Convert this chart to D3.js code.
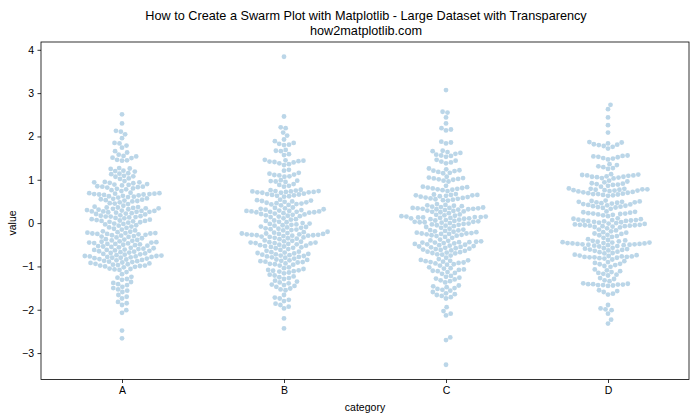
<!DOCTYPE html>
<html>
<head>
<meta charset="utf-8">
<script src="https://cdn.jsdelivr.net/npm/d3@7"></script>
<style>
  html, body { margin: 0; padding: 0; background: #fff; }
  svg { display: block; font-family: "Liberation Sans", Arial, sans-serif; }
</style>
</head>
<body>
<svg id="chart" width="700" height="420"></svg>
<script>
const categories = ["A", "B", "C", "D"];
const yTicks = [-3, -2, -1, 0, 1, 2, 3, 4];

const valuesA = [2.51,2.30,2.13,2.11,2.05,1.96,1.85,1.84,1.79,1.74,1.66,1.63,1.58,1.55,1.54,1.51,1.50,1.46,1.45,1.44,
1.27,1.26,1.25,1.21,1.20,1.19,1.15,1.14,1.13,1.09,1.08,1.07,1.03,1.02,
0.97,0.95,0.94,0.94,0.93,0.92,0.90,0.89,0.88,0.87,0.85,0.84,0.84,0.83,0.82,0.80,0.79,0.78,0.76,0.74,
0.70,0.69,0.69,0.68,0.68,0.67,0.67,0.66,0.66,0.65,0.64,0.63,0.62,0.61,0.60,0.59,0.57,0.56,0.55,0.54,0.53,0.52,0.51,0.50,0.48,0.46,0.45,0.44,
0.40,0.38,0.37,0.36,0.36,0.35,0.34,0.34,0.33,0.32,0.31,0.30,0.29,0.28,0.28,0.27,0.27,0.26,0.26,0.25,0.24,0.23,0.22,0.21,0.20,0.18,
0.17,0.16,0.15,0.15,0.14,0.13,0.12,0.11,0.09,0.08,0.07,0.06,0.05,0.05,0.04,0.03,0.02,0.01,
-0.01,-0.02,-0.03,-0.05,-0.06,-0.08,-0.10,-0.11,-0.13,-0.15,-0.17,-0.19,
-0.20,-0.21,-0.22,-0.23,-0.23,-0.24,-0.24,-0.25,-0.25,-0.26,-0.27,-0.28,-0.29,
-0.30,-0.31,-0.32,-0.33,-0.35,-0.37,
-0.38,-0.39,-0.40,-0.41,-0.42,-0.43,-0.44,-0.45,-0.45,-0.46,-0.47,-0.48,-0.48,-0.49,-0.50,-0.51,-0.52,-0.53,-0.54,-0.55,-0.56,-0.57,-0.58,-0.59,
-0.60,-0.61,-0.62,-0.62,-0.63,-0.64,-0.65,-0.66,-0.67,-0.68,
-0.69,-0.70,-0.71,-0.72,-0.73,-0.74,-0.75,-0.76,-0.76,-0.77,-0.77,-0.78,-0.78,-0.79,-0.80,-0.80,-0.81,-0.82,-0.83,-0.84,
-0.85,-0.86,-0.87,-0.88,-0.89,-0.90,-0.91,-0.92,
-0.93,-0.94,-0.95,-0.96,-0.97,-0.98,-0.98,-0.99,-1.00,-1.01,-1.02,
-1.05,-1.06,-1.07,-1.08,-1.13,-1.18,-1.24,-1.26,-1.29,-1.31,-1.36,-1.38,-1.41,-1.43,
-1.47,-1.50,-1.53,-1.56,-1.59,-1.66,-1.70,-1.74,-1.82,-1.85,-1.89,-2.01,-2.07,-2.48,-2.66];

const valuesB = [3.84,2.46,2.21,2.19,2.09,2.02,
1.93,1.89,1.85,1.83,1.81,1.80,1.69,1.67,1.66,1.59,1.57,
1.46,1.45,1.44,1.43,1.42,1.41,1.40,1.38,1.36,1.34,
1.23,1.21,1.16,1.14,1.12,1.11,1.10,1.08,1.07,
0.99,0.98,0.97,0.96,0.95,0.90,0.88,0.86,0.84,
0.77,0.76,0.75,0.74,0.74,0.73,0.73,0.72,0.72,0.71,0.71,0.70,0.70,0.68,0.67,0.66,0.65,0.64,0.63,0.62,0.61,
0.54,0.53,0.52,0.51,0.50,0.49,0.48,0.47,0.46,0.45,0.44,0.43,0.42,0.41,
0.36,0.35,0.34,0.33,0.32,0.31,0.30,0.29,0.28,0.28,0.27,0.27,0.26,0.26,0.25,0.25,0.24,0.23,0.22,0.21,0.20,0.19,0.18,0.17,0.16,0.15,0.14,
0.11,0.09,0.08,0.06,0.05,0.03,0.02,0.00,-0.02,-0.04,-0.01,-0.03,-0.05,-0.06,
-0.08,-0.09,-0.10,-0.11,-0.12,-0.13,-0.14,-0.15,-0.16,-0.17,
-0.20,-0.21,-0.22,-0.23,-0.24,-0.24,-0.25,-0.25,-0.26,-0.26,-0.27,-0.27,-0.28,-0.28,-0.29,-0.29,-0.30,-0.31,-0.32,-0.33,-0.34,-0.35,-0.36,-0.37,
-0.40,-0.41,-0.42,-0.43,-0.44,-0.45,-0.45,-0.46,-0.46,-0.47,-0.48,-0.49,-0.50,-0.51,-0.52,-0.53,-0.54,-0.55,-0.56,-0.57,-0.58,-0.60,
-0.62,-0.64,-0.66,-0.67,-0.68,-0.69,-0.70,-0.71,-0.72,-0.73,-0.74,-0.75,-0.76,-0.77,-0.78,-0.79,-0.80,-0.82,
-0.84,-0.85,-0.86,-0.87,-0.88,-0.89,-0.90,-0.91,-0.93,-0.94,-0.95,-0.96,-0.98,
-1.02,-1.04,-1.06,-1.08,-1.09,-1.10,-1.11,-1.12,-1.14,-1.16,
-1.19,-1.21,-1.23,-1.25,-1.27,-1.29,-1.33,-1.35,-1.37,-1.39,-1.42,-1.43,-1.45,-1.47,
-1.51,-1.53,-1.55,-1.66,-1.72,-1.74,-1.77,-1.80,-1.86,-1.89,-1.93,-1.97,-2.20,-2.43];

const valuesC = [3.07,2.57,2.55,2.44,2.30,2.19,2.16,2.14,1.88,1.86,1.84,
1.67,1.66,1.64,1.62,1.60,1.58,1.56,1.55,1.53,1.46,1.44,1.42,1.40,1.38,
1.26,1.24,1.22,1.21,1.20,1.18,1.16,1.15,1.07,1.05,1.04,1.03,1.02,1.01,1.00,0.98,0.96,
0.86,0.84,0.83,0.82,0.81,0.80,0.79,0.78,0.77,0.76,0.74,
0.67,0.66,0.65,0.65,0.64,0.64,0.63,0.62,0.61,0.60,0.59,0.58,0.57,0.56,0.55,0.54,0.53,0.52,
0.44,0.42,0.41,0.40,0.39,0.38,0.37,0.36,0.35,0.35,0.34,0.34,0.33,0.33,0.32,0.32,0.31,0.30,0.29,0.28,0.27,0.26,0.25,0.23,
0.20,0.19,0.18,0.17,0.16,0.15,0.15,0.14,0.14,0.13,0.13,0.12,0.12,0.11,0.11,0.10,0.09,0.08,0.07,0.06,0.05,0.04,0.03,0.03,0.02,0.02,0.01,0.00,
-0.01,-0.02,-0.03,-0.04,-0.05,-0.06,-0.07,-0.09,-0.11,-0.13,
-0.15,-0.16,-0.17,-0.18,-0.19,-0.20,-0.21,-0.22,-0.23,-0.24,-0.24,-0.25,-0.25,-0.26,-0.27,-0.28,-0.29,-0.30,-0.32,-0.34,
-0.38,-0.40,-0.41,-0.42,-0.43,-0.44,-0.44,-0.45,-0.45,-0.46,-0.47,-0.48,-0.49,-0.50,-0.51,-0.52,-0.53,-0.54,-0.55,-0.56,-0.57,-0.58,-0.59,-0.60,-0.61,-0.62,-0.63,-0.64,
-0.66,-0.67,-0.68,-0.69,-0.70,-0.72,-0.73,-0.75,
-0.80,-0.83,-0.85,-0.86,-0.87,-0.88,-0.89,-0.90,-0.91,-0.92,-0.93,-0.95,-0.96,-0.98,
-1.02,-1.04,-1.05,-1.07,-1.08,-1.10,-1.11,-1.13,-1.15,-1.17,
-1.22,-1.24,-1.26,-1.28,-1.30,-1.32,-1.34,-1.37,
-1.44,-1.46,-1.48,-1.50,-1.52,-1.54,-1.56,-1.59,
-1.62,-1.64,-1.66,-1.68,-1.71,-1.74,-1.94,-2.03,-2.09,-2.13,-2.64,-2.70,-3.27];

const valuesD = [2.73,2.63,2.44,2.26,2.09,
1.87,1.86,1.84,1.82,1.81,1.80,1.78,1.76,1.72,
1.56,1.55,1.54,1.53,1.52,1.50,1.49,1.47,1.36,1.34,1.31,1.29,1.27,1.25,
1.13,1.12,1.11,1.10,1.10,1.09,1.08,1.07,1.07,1.06,1.05,1.04,1.03,
0.98,0.96,0.94,0.92,0.91,0.90,0.89,0.88,0.86,0.84,
0.80,0.79,0.79,0.78,0.78,0.77,0.77,0.76,0.76,0.75,0.75,0.74,0.73,0.72,0.71,0.70,0.69,0.68,0.67,0.67,0.66,0.65,0.64,0.63,
0.52,0.51,0.50,0.49,0.49,0.48,0.48,0.47,0.46,0.45,0.44,0.43,0.42,0.41,0.40,0.39,0.38,0.37,0.36,0.35,0.33,
0.27,0.26,0.25,0.24,0.23,0.22,0.22,0.21,0.20,0.19,0.18,0.16,
0.11,0.10,0.09,0.08,0.07,0.07,0.06,0.06,0.05,0.05,0.04,0.03,0.02,0.01,0.00,-0.01,
-0.02,-0.03,-0.04,-0.04,-0.05,-0.05,-0.06,-0.06,-0.07,-0.07,-0.08,-0.09,-0.10,-0.12,
-0.15,-0.17,-0.19,-0.21,-0.22,-0.24,-0.25,-0.27,-0.28,-0.30,-0.32,-0.34,
-0.37,-0.39,-0.40,-0.41,-0.42,-0.43,-0.44,-0.45,-0.45,-0.46,-0.46,-0.47,-0.47,-0.48,-0.48,-0.49,-0.49,-0.50,-0.50,-0.51,-0.51,-0.52,-0.53,-0.54,
-0.57,-0.58,-0.59,-0.60,-0.61,-0.62,-0.63,-0.64,-0.66,-0.67,-0.69,-0.70,
-0.73,-0.74,-0.75,-0.76,-0.77,-0.77,-0.78,-0.78,-0.79,-0.79,-0.80,-0.81,-0.82,-0.84,
-0.88,-0.90,-0.92,-0.94,-0.95,-0.97,-0.99,-1.01,
-1.07,-1.09,-1.11,-1.13,-1.15,-1.17,-1.19,-1.21,-1.27,-1.29,-1.32,-1.34,
-1.39,-1.40,-1.41,-1.41,-1.42,-1.42,-1.43,-1.43,-1.44,-1.45,
-1.55,-1.57,-1.59,-1.63,-1.65,-1.89,-1.97,-1.99,-2.01,-2.09,-2.23,-2.32];

const seriesByCategory = [valuesA, valuesB, valuesC, valuesD];

const W = 700, H = 420;
const margin = { left: 41, right: 11, top: 42, bottom: 40.5 };
const svg = d3.select("#chart");
svg.append("rect").attr("width", W).attr("height", H).attr("fill", "#fff");

const x = d3.scalePoint().domain(categories).range([margin.left, W - margin.right]).padding(0.5);
const y = d3.scaleLinear().domain([-3.61, 4.18]).range([H - margin.bottom, margin.top]);

// Beeswarm placement (seaborn-like)
const R = 2.4, D = 5.0;
function swarm(vals) {
  const pts = vals.map(v => ({ v, py: y(v) })).sort((a, b) => b.py - a.py);
  const placed = [];
  for (const p of pts) {
    const nb = placed.filter(q => Math.abs(q.py - p.py) < D);
    const cands = [0];
    for (const q of nb) {
      const dy = q.py - p.py;
      const dx = Math.sqrt(D * D - dy * dy);
      cands.push(q.dx + dx, q.dx - dx);
    }
    cands.sort((a, b) => Math.abs(a) - Math.abs(b));
    let chosen = 0;
    for (const c of cands) {
      let ok = true;
      for (const q of nb) {
        const ddx = q.dx - c, ddy = q.py - p.py;
        if (ddx * ddx + ddy * ddy < D * D - 1e-6) { ok = false; break; }
      }
      if (ok) { chosen = c; break; }
    }
    p.dx = chosen;
    placed.push(p);
  }
  return placed;
}

const g = svg.append("g");
categories.forEach((cat, i) => {
  const pts = swarm(seriesByCategory[i]);
  g.selectAll(null).data(pts).enter().append("circle")
    .attr("cx", d => x(cat) + d.dx)
    .attr("cy", d => d.py)
    .attr("r", R)
    .attr("fill", "#1f77b4")
    .attr("fill-opacity", 0.3);
});

// Axes
const yAxis = d3.axisLeft(y).tickValues(yTicks).tickSize(3.5).tickPadding(3.5).tickFormat(d3.format("d"));
const xAxis = d3.axisBottom(x).tickSize(3.5).tickPadding(3.5);

const ya = svg.append("g").attr("transform", `translate(${margin.left},0)`).call(yAxis);
const xa = svg.append("g").attr("transform", `translate(0,${H - margin.bottom})`).call(xAxis);
[ya, xa].forEach(a => {
  a.select(".domain").remove();
  a.selectAll("line").attr("stroke", "#000").attr("stroke-width", 0.8);
  a.selectAll("text").attr("fill", "#000").style("font-size", "10.5px").style("font-family", "Liberation Sans, Arial, sans-serif");
});

// Frame (spines)
svg.append("rect")
  .attr("x", margin.left).attr("y", margin.top)
  .attr("width", W - margin.left - margin.right)
  .attr("height", H - margin.top - margin.bottom)
  .attr("fill", "none").attr("stroke", "#000").attr("stroke-width", 0.8);

// Titles and labels
svg.append("text").attr("x", 366).attr("y", 20).attr("text-anchor", "middle")
  .style("font-size", "12.7px").text("How to Create a Swarm Plot with Matplotlib - Large Dataset with Transparency");
svg.append("text").attr("x", 366).attr("y", 35).attr("text-anchor", "middle")
  .style("font-size", "12.7px").text("how2matplotlib.com");
svg.append("text").attr("x", 365).attr("y", 411).attr("text-anchor", "middle")
  .style("font-size", "10.5px").text("category");
svg.append("text").attr("transform", "translate(16,223) rotate(-90)").attr("text-anchor", "middle")
  .style("font-size", "10.5px").text("value");
</script>
</body>
</html>
